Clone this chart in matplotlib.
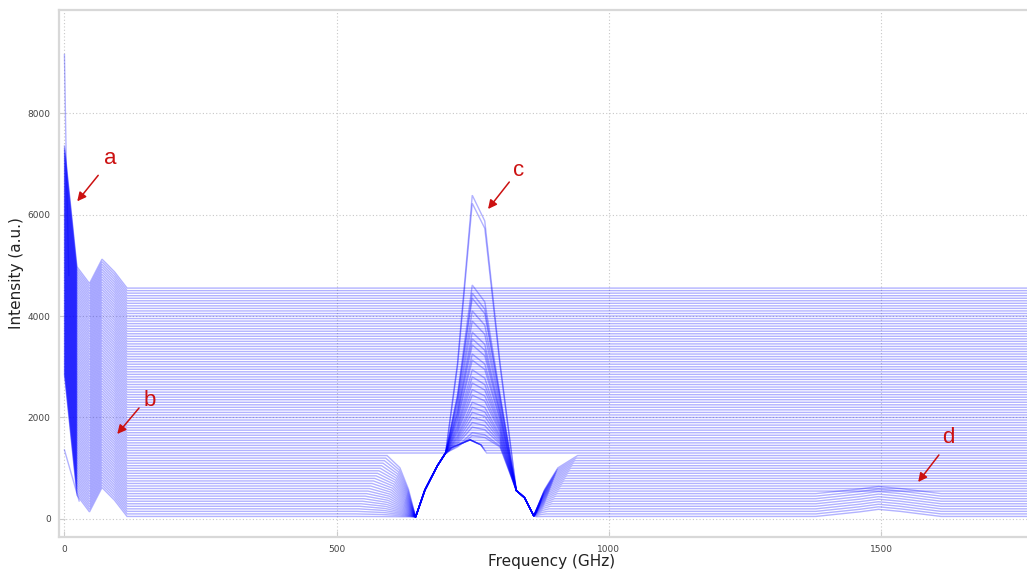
import matplotlib
matplotlib.use("Agg")
import matplotlib.pyplot as plt
import numpy as np

# baseline level of every spectrum (a.u.), bottom to top
baselines = [50, 100, 150, 200, 250, 300, 350, 400, 450, 500,
             550, 600, 650, 700, 750, 800, 850, 900, 950, 1000,
             1050, 1100, 1150, 1200, 1250, 1300, 1350, 1400, 1450, 1500,
             1550, 1600, 1650, 1700, 1750, 1800, 1850, 1900, 1950, 2000,
             2050, 2100, 2150, 2200, 2250, 2300, 2350, 2400, 2450, 2500,
             2550, 2600, 2650, 2700, 2750, 2800, 2850, 2900, 2950, 3000,
             3050, 3100, 3150, 3200, 3250, 3300, 3350, 3400, 3450, 3500,
             3550, 3600, 3650, 3700, 3750, 3800, 3850, 3900, 3950, 4000,
             4050, 4100, 4150, 4200, 4250, 4300, 4350, 4400, 4450, 4500,
             4550]

# low frequency part (peaks a and b), offset above each baseline
lo_freq = [0, 23, 46, 69, 92, 115]
lo_offset = [2800, 420, 90, 570, 320, 0]

# two faint stray lines at the start
spike_freq = [0, 3, 8]
spike_val = [9150, 7250, 4800]
stray_freq = [0, 27]
stray_val = [1360, 355]

# band around peak c
arc_freq = [645, 662, 685, 710, 745, 765, 785, 806, 830, 845, 862]
arc_val = [40, 570, 1050, 1400, 1560, 1460, 1150, 830, 560, 420, 60]
arc_top = 4  # index of the arc maximum

# lower traces fall to the floor before the arc and climb back after it
dip_limit = 1250
dip_floor = 40
dip_left_start = 530      # GHz where the lowest trace leaves its baseline
dip_right_end = 880
dip_slope = 0.05          # GHz per a.u. of baseline
fan_pos = [0.0, 0.45, 0.75]
fan_level = [1.0, 0.8, 0.45]

# traces that rise above the arc (peak c apex heights)
c_peaks = [6380, 6220, 4610, 4450, 4350, 4100, 3900, 3680, 3550, 3430,
           3250, 3130, 2940, 2800, 2680, 2550, 2440, 2300, 2200, 2100,
           2000, 1900, 1810, 1700, 1640]
peak_base = 1300
peak_freq = [700, 722, 749, 772, 800]
peak_frac = [0.0, 0.35, 1.0, 0.9, 0.35]

# small bump d on the lowest traces
bump_limit = 500
bump_freq = [1380, 1460, 1495, 1535, 1610]
bump_add = [0, 90, 140, 100, 0]

x_end = 1800

fig = plt.figure(figsize=(10.27, 5.70), dpi=100)
ax = fig.add_axes([59 / 1027, 33 / 570, 985.5 / 1027, 527 / 570])

line_kw = dict(color="#0000ff", lw=1.0, alpha=0.3, solid_joinstyle="miter")

arc_l_f, arc_l_v = arc_freq[:arc_top + 1], arc_val[:arc_top + 1]
arc_r_f, arc_r_v = arc_freq[arc_top:][::-1], arc_val[arc_top:][::-1]

for i, b in enumerate(baselines):
    xs = list(lo_freq)
    ys = [b + o for o in lo_offset]
    lev = [dip_floor + f * (b - dip_floor) for f in fan_level]
    if b <= dip_limit:
        # left flank, bending down to the floor
        x0 = dip_left_start + dip_slope * b
        xs += [x0 + p * (arc_freq[0] - x0) for p in fan_pos]
        ys += lev
        if i < len(c_peaks):
            h = c_peaks[i]
            xs += arc_freq[:3] + peak_freq + arc_freq[-3:]
            ys += arc_val[:3]
            ys += [peak_base + f * (h - peak_base) for f in peak_frac]
            ys += arc_val[-3:]
        else:
            xs += arc_freq
            ys += arc_val
        # right flank, back up to the baseline
        x1 = dip_right_end + dip_slope * b
        xs += [x1 - p * (x1 - arc_freq[-1]) for p in fan_pos][::-1]
        ys += lev[::-1]
    elif b < max(arc_val):
        # the trace rides over the arc
        xl = np.interp(b, arc_l_v, arc_l_f)
        xr = np.interp(b, arc_r_v, arc_r_f)
        xs.append(xl)
        ys.append(b)
        for f, v in zip(arc_freq, arc_val):
            if v > b:
                xs.append(f)
                ys.append(v)
        xs.append(xr)
        ys.append(b)
    if b <= bump_limit:
        xs += bump_freq
        ys += [b + a for a in bump_add]
    xs.append(x_end)
    ys.append(b)
    ax.plot(xs, ys, **line_kw)

ax.plot(spike_freq, spike_val, **line_kw)
ax.plot(stray_freq, stray_val, **line_kw)

ax.set_xlim(-10, x_end)
ax.set_ylim(-355, 10030)
ax.set_xticks([0, 500, 1000, 1500])
ax.set_yticks([0, 2000, 4000, 6000, 8000])
ax.grid(True, color="#c8c8c8", lw=0.8, linestyle=(0, (1, 2)))
ax.set_axisbelow(True)
for s in ax.spines.values():
    s.set_color("#d8d8d8")
    s.set_linewidth(1.6)
ax.tick_params(direction="in", length=4, color="#cccccc", labelsize=6.5,
               labelcolor="#444444", pad=6)

ax.set_xlabel("Frequency (GHz)", fontsize=11, color="#222222", labelpad=0)
ax.set_ylabel("Intensity (a.u.)", fontsize=11, color="#222222", labelpad=3)

# letter labels with red arrows
red = "#cc1111"
marks = [("a", (23.5, 6260), (62, 6772), (84, 7113)),
         ("b", (97, 1675), (137, 2187), (156, 2325)),
         ("c", (778, 6108), (817, 6640), (835, 6877)),
         ("d", (1568, 729), (1606, 1261), (1623, 1596))]
for letter, head, tail, txt in marks:
    ax.annotate("", xy=head, xytext=tail,
                arrowprops=dict(arrowstyle="-|>", color=red, lw=1.1,
                                mutation_scale=13, shrinkA=0, shrinkB=0))
    ax.text(txt[0], txt[1], letter, color=red, fontsize=16,
            family="Liberation Sans", ha="center", va="center")

fig.savefig("out.png", dpi=100)
